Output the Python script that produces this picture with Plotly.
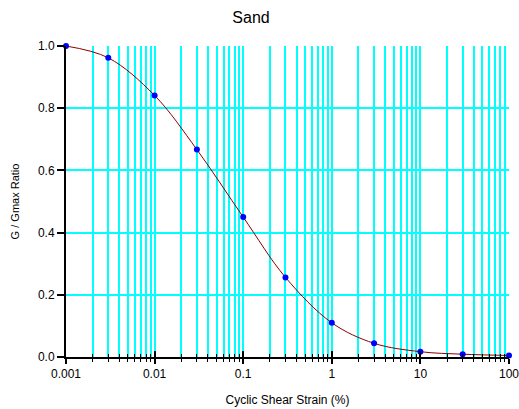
import plotly.graph_objects as go

# Modulus reduction curve for sand
strain_pct = [0.001, 0.003, 0.01, 0.03, 0.1, 0.3, 1, 3, 10, 30, 100]
g_ratio = [1.0, 0.962, 0.841, 0.667, 0.450, 0.256, 0.110, 0.044, 0.017, 0.009, 0.005]

x_tickvals = [0.001, 0.01, 0.1, 1, 10, 100]
x_ticktext = ["0.001", "0.01", "0.1", "1", "10", "100"]
y_tickvals = [0.0, 0.2, 0.4, 0.6, 0.8, 1.0]
x_minor = [m * 10 ** e for e in range(-3, 2) for m in range(2, 10)]

FONT = "Liberation Sans, Arial, sans-serif"
GRID = "#00FFFF"

fig = go.Figure()

fig.add_trace(go.Scatter(
    x=strain_pct, y=g_ratio, mode="lines",
    line=dict(color="#8B0000", width=1, shape="spline", smoothing=1.0),
    hoverinfo="skip", showlegend=False, cliponaxis=False,
))
fig.add_trace(go.Scatter(
    x=strain_pct, y=g_ratio, mode="markers",
    marker=dict(color="#0000FF", size=6),
    showlegend=False, cliponaxis=False,
))
# transparent copy on the overlay axis so its inward tick marks get drawn
fig.add_trace(go.Scatter(
    x=strain_pct, y=g_ratio, mode="markers", xaxis="x2",
    marker=dict(size=1, opacity=0), hoverinfo="skip", showlegend=False,
))

fig.update_layout(
    width=519, height=409,
    margin=dict(l=66, r=10, t=46, b=52),
    paper_bgcolor="white", plot_bgcolor="white",
    font=dict(family=FONT, size=12, color="black"),
    title=dict(text="Sand", x=251 / 519, xref="container", xanchor="center",
               y=1 - 17 / 409, yref="container", yanchor="middle",
               font=dict(size=16, family=FONT, color="black")),
    xaxis=dict(
        type="log", range=[-3, 2], automargin=False,
        tickvals=x_tickvals, ticktext=x_ticktext, ticklabeloverflow="allow",
        ticks="outside", ticklen=5, tickwidth=2, tickcolor="black",
        showgrid=True, gridcolor=GRID, gridwidth=1.6,
        minor=dict(ticks="outside", ticklen=3, tickwidth=1, tickcolor="black",
                   showgrid=True, gridcolor=GRID, gridwidth=1.6,
                   tickvals=x_minor),
        showline=True, linecolor="black", linewidth=2,
        zeroline=False,
        title=dict(text="Cyclic Shear Strain (%)", standoff=15,
                   font=dict(size=12, family=FONT)),
        tickfont=dict(size=12, family=FONT),
    ),
    xaxis2=dict(
        type="log", range=[-3, 2], overlaying="x", anchor="y", side="bottom",
        automargin=False,
        tickvals=x_tickvals, showticklabels=False,
        ticks="inside", ticklen=6, tickwidth=2, tickcolor="black",
        showgrid=False, zeroline=False, showline=False,
        minor=dict(ticks="inside", ticklen=3, tickwidth=1, tickcolor="black",
                   showgrid=False, tickvals=x_minor),
    ),
    yaxis=dict(
        range=[0, 1.0], tickvals=y_tickvals, tickformat=".1f", automargin=False,
        ticks="outside", ticklen=7, tickwidth=2, tickcolor="black",
        showgrid=True, gridcolor=GRID, gridwidth=1.6,
        showline=True, linecolor="black", linewidth=2,
        zeroline=False,
        title=dict(text="G / Gmax Ratio", standoff=16,
                   font=dict(size=11, family=FONT)),
        tickfont=dict(size=12, family=FONT),
    ),
)

fig.write_html("out.html")
